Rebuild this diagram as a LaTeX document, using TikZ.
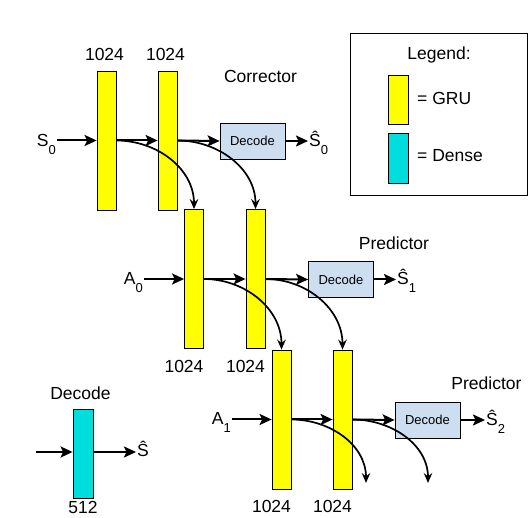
\documentclass[tikz,border=0pt]{standalone}
\usepackage{fontspec}
\setmainfont{Liberation Sans}
\usetikzlibrary{arrows.meta}

\definecolor{gruyellow}{RGB}{255,255,0}
\definecolor{densecyan}{RGB}{0,221,221}
\definecolor{decodeblue}{RGB}{205,222,240}
\newcommand{\lowsub}[1]{\raisebox{-0.42em}{\fontsize{13}{13}\selectfont #1}}

\tikzset{
	gru/.style={draw, fill=gruyellow, minimum width=19pt, minimum height=139pt, inner sep=0pt, line width=0.8pt},
	dense/.style={draw, fill=densecyan, minimum width=20pt, minimum height=89pt, inner sep=0pt, line width=0.8pt},
	decodebox/.style={draw, fill=decodeblue, minimum width=65pt, minimum height=36pt, inner sep=0pt, line width=0.8pt, font=\fontsize{13}{13}\selectfont},
	lbl/.style={font=\fontsize{17.5}{17.5}\selectfont, inner sep=1pt},
	flow/.style={line width=2pt, -{Stealth[length=12pt, width=11pt, inset=2.5pt]}},
	feed/.style={line width=1.7pt, -{Stealth[length=10pt, width=8.5pt, inset=3.5pt]}, out=0, in=90},
}

\begin{document}
\begin{tikzpicture}[x=1pt, y=-1pt]
	\useasboundingbox (0,0) rectangle (528,518);

	% GRU columns
	\node [gru] (c1) at (106.5,140.5) {};
	\node [gru] (c2) at (167.5,140.5) {};
	\node [gru] (p1) at (194,279) {};
	\node [gru] (p2) at (255.5,279) {};
	\node [gru] (q1) at (281.5,419.5) {};
	\node [gru] (q2) at (342.5,419.5) {};

	% decoders
	\node [decodebox] (d0) at (252.5,141) {Decode};
	\node [decodebox] (d1) at (341,279.5) {Decode};
	\node [decodebox] (d2) at (427.5,420) {Decode};

	% inputs and outputs
	\node [lbl, anchor=base east] (s0) at (57,147) {S\lowsub{0}};
	\node [lbl, anchor=base east] (a0) at (144,285) {A\lowsub{0}};
	\node [lbl, anchor=base east] (a1) at (232,425) {A\lowsub{1}};
	\node [lbl, anchor=base west] (h0) at (308,147) {Ŝ\lowsub{0}};
	\node [lbl, anchor=base west] (h1) at (396,285) {Ŝ\lowsub{1}};
	\node [lbl, anchor=base west] (h2) at (485,426) {Ŝ\lowsub{2}};

	\node [lbl, anchor=base] (corr) at (260.5,83) {Corrector};
	\node [lbl, anchor=base] (pred1) at (394,250) {Predictor};
	\node [lbl, anchor=base] (pred2) at (486.5,390) {Predictor};

	% sizes
	\node [lbl, above=9pt] (n1) at ([xshift=-2pt]c1.north) {1024};
	\node [lbl, above=9pt] (n2) at ([xshift=-2pt]c2.north) {1024};
	\node [lbl, below=10pt] (n3) at ([xshift=-10pt]p1.south) {1024};
	\node [lbl, below=10pt] (n4) at ([xshift=-10pt]p2.south) {1024};
	\node [lbl, below=10pt] (n5) at ([xshift=-10pt]q1.south) {1024};
	\node [lbl, below=10pt] (n6) at ([xshift=-10pt]q2.south) {1024};

	% straight flow
	\draw [flow] (s0.east |- c1.west) -- (c1.west);
	\draw [flow] (c1.east) -- (c2.west);
	\draw [flow] (c2.east) -- (d0.west);
	\draw [flow] (d0.east) -- (h0.west |- d0.east);
	\draw [flow] (a0.east |- p1.west) -- (p1.west);
	\draw [flow] (p1.east) -- (p2.west);
	\draw [flow] (p2.east) -- (d1.west);
	\draw [flow] (d1.east) -- (h1.west |- d1.east);
	\draw [flow] (a1.east |- q1.west) -- (q1.west);
	\draw [flow] (q1.east) -- (q2.west);
	\draw [flow] (q2.east) -- (d2.west);
	\draw [flow] (d2.east) -- (h2.west |- d2.east);

	% hidden state passed down
	\coordinate (q1out) at (366,483);
	\coordinate (q2out) at (428,483);
	\draw [feed] (c1.east) to (p1.north);
	\draw [feed] (c2.east) to (p2.north);
	\draw [feed] (p1.east) to (q1.north);
	\draw [feed] (p2.east) to (q2.north);
	\draw [feed] (q1.east) to (q1out);
	\draw [feed] (q2.east) to (q2out);

	% legend
	\node [draw, line width=1pt, minimum width=177pt, minimum height=162pt, inner sep=0pt] (legend) at (438.5,115) {};
	\node [lbl, anchor=base] (legtitle) at (439,60) {Legend:};
	\node [gru, minimum width=20pt, minimum height=49pt] (leggru) at (398,99.5) {};
	\node [dense, minimum height=50pt] (legdense) at (398,158) {};
	\node [lbl, anchor=base west] (legtxt1) at (416,105) {= GRU};
	\node [lbl, anchor=base west] (legtxt2) at (416,162) {= Dense};

	% decode block
	\node [dense] (dec) at (83,453.5) {};
	\node [lbl, anchor=base] (dectitle) at (80.5,400) {Decode};
	\node [lbl, inner sep=0pt, below=3pt] (decsize) at (dec.south) {512};
	\coordinate (decin) at (36,452);
	\node [lbl, anchor=base west] (hs) at (136,457) {Ŝ};
	\draw [flow] (decin) -- (decin -| dec.west);
	\draw [flow] (decin -| dec.east) -- (hs.west |- decin);
\end{tikzpicture}
\end{document}
